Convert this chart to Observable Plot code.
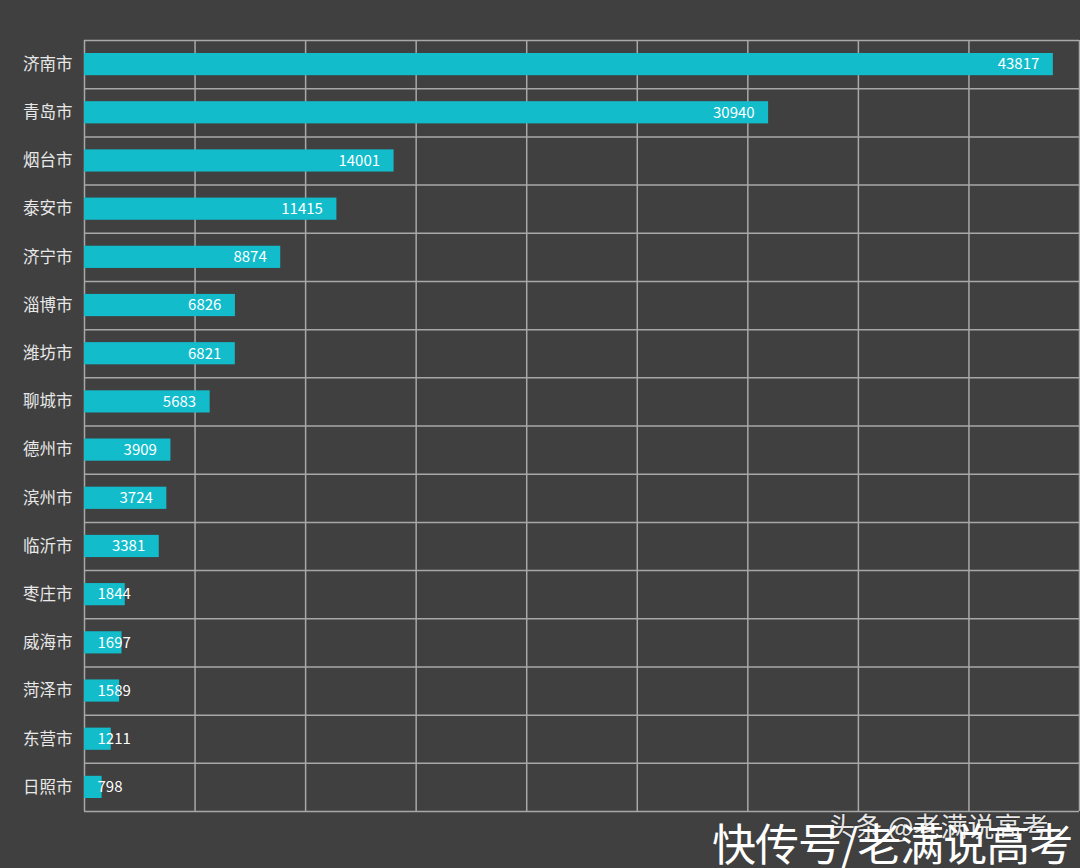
<!DOCTYPE html>
<html>
<head>
<meta charset="utf-8">
<script src="https://cdn.jsdelivr.net/npm/d3@7"></script>
<script src="https://cdn.jsdelivr.net/npm/@observablehq/plot@0.6"></script>
<style>
  html, body { margin: 0; padding: 0; background: #404040; }
  #wrap { position: relative; width: 1080px; height: 868px; overflow: hidden; background: #404040; }
  #chart svg { display: block; }
  .wm1 { position: absolute; left: 828px; top: 806px; font: 27px "Noto Sans CJK SC", sans-serif; color: #e6e6e6; text-shadow: 0 0 2px #222; white-space: nowrap; }
  .wm2 { position: absolute; left: 712px; top: 810px; font: 44px "Noto Sans CJK SC", sans-serif; color: #ffffff; white-space: nowrap; letter-spacing: -1px; }
</style>
</head>
<body>
<div id="wrap">
  <div id="chart"></div>
  <div class="wm1">头条 @老满说高考</div>
  <div class="wm2">快传号/老满说高考</div>
</div>
<script>
const cities = ["济南市","青岛市","烟台市","泰安市","济宁市","淄博市","潍坊市","聊城市","德州市","滨州市","临沂市","枣庄市","威海市","菏泽市","东营市","日照市"];
const values = [43817, 30940, 14001, 11415, 8874, 6826, 6821, 5683, 3909, 3724, 3381, 1844, 1697, 1589, 1211, 798];
const xTicks = [0, 5000, 10000, 15000, 20000, 25000, 30000, 35000, 40000, 45000];

const data = cities.map((c, i) => ({city: c, value: values[i], i}));
const rows = d3.range(cities.length + 1);
const bigThreshold = 2500;

const chart = Plot.plot({
  width: 1080,
  height: 868,
  marginLeft: 84,
  marginRight: 1,
  marginTop: 40,
  marginBottom: 57,
  style: {background: "#404040", fontFamily: "'Noto Sans CJK SC', sans-serif"},
  x: {domain: [0, 45000], axis: null},
  y: {domain: [0, cities.length], axis: null, reverse: true},
  marks: [
    Plot.ruleX(xTicks, {stroke: "#a8a8a8", strokeWidth: 1.5}),
    Plot.ruleY(rows, {stroke: "#a8a8a8", strokeWidth: 1.5}),
    Plot.rectX(data, {x1: 0, x2: "value", y1: d => d.i, y2: d => d.i + 1, insetTop: 13, insetBottom: 13, fill: "#12bccb"}),
    Plot.text(data.filter(d => d.value >= bigThreshold), {x: "value", y: d => d.i + 0.5, text: d => String(d.value), textAnchor: "end", dx: -14, fill: "#ffffff", fontSize: 15}),
    Plot.text(data.filter(d => d.value < bigThreshold), {x: 0, y: d => d.i + 0.5, text: d => String(d.value), textAnchor: "start", dx: 13, fill: "#ffffff", fontSize: 15}),
    Plot.text(data, {x: 0, y: d => d.i + 0.5, text: "city", textAnchor: "end", dx: -12, fill: "#e8e8e8", fontSize: 16.5})
  ]
});
document.getElementById("chart").appendChild(chart);
</script>
</body>
</html>
